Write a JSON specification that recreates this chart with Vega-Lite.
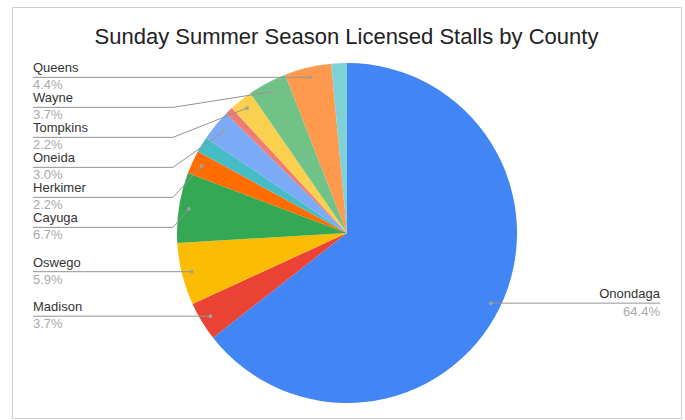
{
  "$schema": "https://vega.github.io/schema/vega-lite/v6.json",
  "width": 669,
  "height": 411,
  "autosize": {"type": "none"},
  "padding": {"left": 12, "top": 7, "right": 4, "bottom": 2},
  "background": "white",
  "config": {
    "view": {"stroke": "#cfcfcf", "strokeWidth": 1},
    "font": "Liberation Sans"
  },
  "title": {
    "text": "Sunday Summer Season Licensed Stalls by County",
    "font": "Liberation Sans",
    "fontSize": 22,
    "fontWeight": "normal",
    "color": "#222222",
    "anchor": "middle",
    "frame": "group",
    "offset": -42
  },
  "data": {
    "values": [
      {"order": 1, "county": "Onondaga", "stalls": 87, "labeled": true},
      {"order": 2, "county": "Madison", "stalls": 5, "labeled": true},
      {"order": 3, "county": "Oswego", "stalls": 8, "labeled": true},
      {"order": 4, "county": "Cayuga", "stalls": 9, "labeled": true},
      {"order": 5, "county": "Herkimer", "stalls": 3, "labeled": true},
      {"order": 6, "county": "Unlabeled A", "stalls": 2, "labeled": false},
      {"order": 7, "county": "Oneida", "stalls": 4, "labeled": true},
      {"order": 8, "county": "Unlabeled B", "stalls": 1, "labeled": false},
      {"order": 9, "county": "Tompkins", "stalls": 3, "labeled": true},
      {"order": 10, "county": "Wayne", "stalls": 5, "labeled": true},
      {"order": 11, "county": "Queens", "stalls": 6, "labeled": true},
      {"order": 12, "county": "Unlabeled C", "stalls": 2, "labeled": false}
    ]
  },
  "transform": [
    {"window": [{"op": "sum", "field": "stalls", "as": "cum"}], "sort": [{"field": "order"}], "frame": [null, 0]},
    {"joinaggregate": [{"op": "sum", "field": "stalls", "as": "total"}]},
    {"calculate": "datum.stalls / datum.total", "as": "pct"},
    {"calculate": "2 * PI * (datum.cum - datum.stalls / 2) / datum.total", "as": "mid"},
    {"calculate": "0.941 * sin(datum.mid)", "as": "dotx"},
    {"calculate": "0.941 * cos(datum.mid)", "as": "doty"},
    {"calculate": "datum.mid > PI ? 'left' : 'right'", "as": "side"}
  ],
  "layer": [
    {
      "mark": {"type": "arc", "outerRadius": 170},
      "encoding": {
        "x": {"datum": 0, "type": "quantitative", "scale": {"domain": [-1.97059, 1.96471], "nice": false, "zero": false}, "axis": null},
        "y": {"datum": 0, "type": "quantitative", "scale": {"domain": [-1.08824, 1.32941], "nice": false, "zero": false}, "axis": null},
        "theta": {"field": "stalls", "type": "quantitative", "stack": true},
        "order": {"field": "order", "type": "quantitative"},
        "color": {
          "field": "county",
          "type": "nominal",
          "legend": null,
          "scale": {
            "domain": ["Onondaga", "Madison", "Oswego", "Cayuga", "Herkimer", "Unlabeled A", "Oneida", "Unlabeled B", "Tompkins", "Wayne", "Queens", "Unlabeled C"],
            "range": ["#4285F4", "#EA4335", "#FBBC04", "#34A853", "#FF6D01", "#46BDC6", "#7BAAF7", "#F07B72", "#FCD04F", "#71C287", "#FF994D", "#7ED1D7"]
          }
        }
      }
    },
    {
      "transform": [
        {"filter": "datum.labeled"},
        {"window": [{"op": "row_number", "as": "rank"}], "groupby": ["side"], "sort": [{"field": "mid", "order": "descending"}]},
        {"calculate": "datum.doty + 0.1765 * datum.rank", "as": "a"},
        {"window": [{"op": "min", "field": "a", "as": "amin"}], "groupby": ["side"], "sort": [{"field": "mid", "order": "descending"}], "frame": [null, 0]},
        {"calculate": "datum.amin - 0.1765 * datum.rank", "as": "liney"},
        {"calculate": "datum.side == 'left' ? -1.847 : 1.841", "as": "labelx"},
        {"calculate": "datum.side == 'left' ? -1.0235 : datum.dotx", "as": "kneex"}
      ],
      "layer": [
        {
          "mark": {"type": "rule", "color": "#939393", "strokeWidth": 1},
          "encoding": {
            "x": {"field": "labelx", "type": "quantitative"},
            "x2": {"field": "kneex"},
            "y": {"field": "liney", "type": "quantitative"}
          }
        },
        {
          "mark": {"type": "rule", "color": "#939393", "strokeWidth": 1},
          "encoding": {
            "x": {"field": "kneex", "type": "quantitative"},
            "y": {"field": "liney", "type": "quantitative"},
            "x2": {"field": "dotx"},
            "y2": {"field": "doty"}
          }
        },
        {
          "mark": {"type": "point", "filled": true, "size": 14, "color": "#a0a0a0", "opacity": 1},
          "encoding": {
            "x": {"field": "dotx", "type": "quantitative"},
            "y": {"field": "doty", "type": "quantitative"}
          }
        },
        {
          "transform": [{"filter": "datum.side == 'left'"}],
          "mark": {"type": "text", "align": "left", "baseline": "alphabetic", "dy": -5, "fontSize": 13, "color": "#333333"},
          "encoding": {
            "x": {"field": "labelx", "type": "quantitative"},
            "y": {"field": "liney", "type": "quantitative"},
            "text": {"field": "county"}
          }
        },
        {
          "transform": [{"filter": "datum.side == 'left'"}],
          "mark": {"type": "text", "align": "left", "baseline": "alphabetic", "dy": 12, "fontSize": 13, "color": "#aaaaaa"},
          "encoding": {
            "x": {"field": "labelx", "type": "quantitative"},
            "y": {"field": "liney", "type": "quantitative"},
            "text": {"field": "pct", "format": ".1%"}
          }
        },
        {
          "transform": [{"filter": "datum.side == 'right'"}],
          "mark": {"type": "text", "align": "right", "baseline": "alphabetic", "dy": -5, "fontSize": 13, "color": "#333333"},
          "encoding": {
            "x": {"field": "labelx", "type": "quantitative"},
            "y": {"field": "liney", "type": "quantitative"},
            "text": {"field": "county"}
          }
        },
        {
          "transform": [{"filter": "datum.side == 'right'"}],
          "mark": {"type": "text", "align": "right", "baseline": "alphabetic", "dy": 13, "fontSize": 13, "color": "#aaaaaa"},
          "encoding": {
            "x": {"field": "labelx", "type": "quantitative"},
            "y": {"field": "liney", "type": "quantitative"},
            "text": {"field": "pct", "format": ".1%"}
          }
        }
      ]
    }
  ]
}
